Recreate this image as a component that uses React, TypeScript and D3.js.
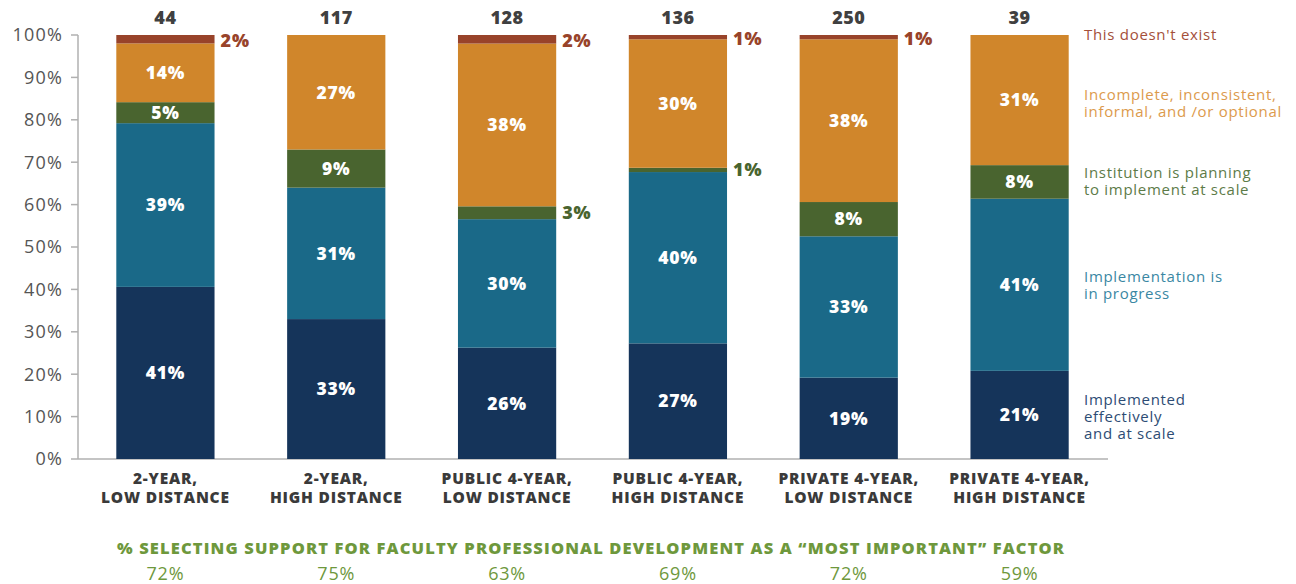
import React from "react";
import * as d3 from "d3";

const categories = [
  ["2-YEAR,", "LOW DISTANCE"],
  ["2-YEAR,", "HIGH DISTANCE"],
  ["PUBLIC 4-YEAR,", "LOW DISTANCE"],
  ["PUBLIC 4-YEAR,", "HIGH DISTANCE"],
  ["PRIVATE 4-YEAR,", "LOW DISTANCE"],
  ["PRIVATE 4-YEAR,", "HIGH DISTANCE"],
];
const counts = [44, 117, 128, 136, 250, 39];
const implementedScale = [41, 33, 26, 27, 19, 21];
const inProgress = [39, 31, 30, 40, 33, 41];
const planning = [5, 9, 3, 1, 8, 8];
const incomplete = [14, 27, 38, 30, 38, 31];
const doesntExist = [2, 0, 2, 1, 1, 0];
const supportPct = [72, 75, 63, 69, 72, 59];
const yTicks = [0, 10, 20, 30, 40, 50, 60, 70, 80, 90, 100];

const seriesKeys = ["impl", "prog", "plan", "inc", "none"];
const seriesValues = [implementedScale, inProgress, planning, incomplete, doesntExist];
const seriesColors = ["#15345a", "#1a6988", "#49642f", "#d0862b", "#98432a"];
const legendColors = ["#2d4c74", "#3a87a3", "#5d7b48", "#dc9a4c", "#a4503a"];
const legendLines = [
  ["Implemented", "effectively", "and at scale"],
  ["Implementation is", "in progress"],
  ["Institution is planning", "to implement at scale"],
  ["Incomplete, inconsistent,", "informal, and /or optional"],
  ["This doesn't exist"],
];
const legendY = [400, 277, 173, 95, 35];
const outsideMin = 4;

const FONT = "'Open Sans', 'DejaVu Sans', sans-serif";

export default function App() {
  const W = 1296, H = 584;
  const x = d3
    .scaleBand<number>()
    .domain(d3.range(categories.length))
    .range([80, 1105])
    .paddingInner(0.425)
    .paddingOuter(0.2125);
  const y = d3.scaleLinear().domain([0, 100]).range([459, 35]);

  const normalized = categories.map((_, i) => {
    const o: any = { i };
    const tot = d3.sum(seriesValues, (arr) => arr[i]);
    seriesKeys.forEach((k, s) => (o[k] = (seriesValues[s][i] / tot) * 100));
    return o;
  });
  const stacked = d3.stack<any>().keys(seriesKeys)(normalized);

  const bw = x.bandwidth();

  return (
    <svg width={W} height={H} style={{ position: "fixed", left: 0, top: 0, background: "#fff" }} fontFamily={FONT}>
      <line x1={78} x2={78} y1={y(100)} y2={y(0)} stroke="#b0b0b0" strokeWidth={1.5} />
      {yTicks.map((t) => (
        <g key={t}>
          <line x1={71} x2={78} y1={y(t)} y2={y(t)} stroke="#b0b0b0" strokeWidth={1.5} />
          <text x={63} y={y(t)} dy="0.35em" textAnchor="end" fontSize={18} letterSpacing={1.2} fill="#555">
            {t}%
          </text>
        </g>
      ))}
      <line x1={78} x2={1108} y1={y(0)} y2={y(0)} stroke="#b0b0b0" strokeWidth={1.5} />

      {stacked.map((layer, s) => (
        <g key={layer.key}>
          {layer.map((d, i) => {
            const v = seriesValues[s][i];
            if (!v) return null;
            const y0 = y(d[0]);
            const y1 = y(d[1]);
            const x0 = x(i)!;
            const outside = v < outsideMin;
            const cy = (y0 + y1) / 2;
            return (
              <g key={i}>
                <rect x={x0} y={y1} width={bw} height={y0 - y1} fill={seriesColors[s]} />
                {outside ? (
                  <text
                    x={x0 + bw + 6}
                    y={cy + (s === 4 ? 1 : 0)}
                    dy="0.36em"
                    fontSize={18}
                    fontWeight={800}
                    letterSpacing={0.8}
                    fill={seriesColors[s]}
                  >
                    {v}%
                  </text>
                ) : (
                  <text
                    x={x0 + bw / 2}
                    y={cy}
                    dy="0.36em"
                    textAnchor="middle"
                    fontSize={17.5}
                    fontWeight={800}
                    letterSpacing={0.8}
                    fill="#fff"
                  >
                    {v}%
                  </text>
                )}
              </g>
            );
          })}
        </g>
      ))}

      {counts.map((c, i) => (
        <text key={i} x={x(i)! + bw / 2} y={18} dy="0.35em" textAnchor="middle" fontSize={18} fontWeight={800} letterSpacing={0.5} fill="#404040">
          {c}
        </text>
      ))}

      {categories.map((lines, i) => (
        <text key={i} x={x(i)! + bw / 2} textAnchor="middle" fontSize={15.5} fontWeight={800} letterSpacing={0.8} fill="#3a3a3a">
          {lines.map((l, j) => (
            <tspan key={j} x={x(i)! + bw / 2} y={484 + j * 19}>
              {l}
            </tspan>
          ))}
        </text>
      ))}

      {legendLines.map((lines, s) => (
        <text key={s} fontSize={15} letterSpacing={0.7} fill={legendColors[s]}>
          {lines.map((l, j) => (
            <tspan key={j} x={1084} y={legendY[s] + j * 17} dy="0.35em">
              {l}
            </tspan>
          ))}
        </text>
      ))}

      <text
        x={117}
        y={548}
        dy="0.35em"
        fontSize={16.5}
        fontWeight={800}
        textLength={947}
        lengthAdjust="spacing"
        fill="#6e983c"
      >
        % SELECTING SUPPORT FOR FACULTY PROFESSIONAL DEVELOPMENT AS A “MOST IMPORTANT” FACTOR
      </text>
      {supportPct.map((p, i) => (
        <text key={i} x={x(i)! + bw / 2} y={574} dy="0.35em" textAnchor="middle" fontSize={18} letterSpacing={0.8} fill="#6e983c">
          {p}%
        </text>
      ))}
    </svg>
  );
}
